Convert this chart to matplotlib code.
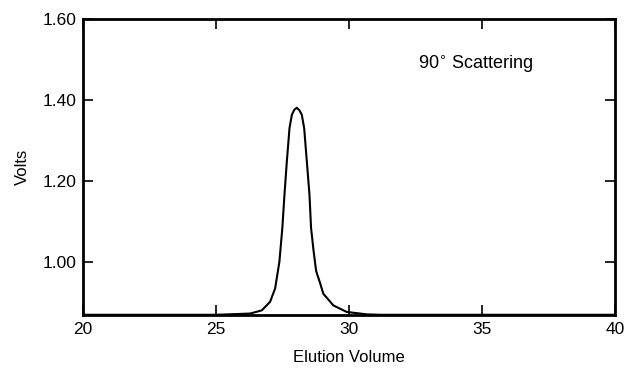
import matplotlib
matplotlib.use("Agg")
import matplotlib.pyplot as plt

plt.rcParams['font.family'] = ['Liberation Sans', 'DejaVu Sans']

# elution trace
volume = [20.0, 25.0, 26.28, 26.72, 27.03, 27.22, 27.38, 27.49, 27.57, 27.66, 27.76,
          27.85, 27.94, 28.03, 28.13, 28.22, 28.31, 28.41, 28.51, 28.57, 28.66, 28.76,
          28.91, 29.03, 29.41, 29.91, 30.67, 31.17, 34.0, 40.0]
volts = [0.870, 0.870, 0.873, 0.881, 0.902, 0.935, 1.001, 1.084, 1.166, 1.249, 1.331,
         1.364, 1.376, 1.381, 1.375, 1.364, 1.331, 1.249, 1.166, 1.084, 1.030, 0.978,
         0.948, 0.922, 0.893, 0.877, 0.871, 0.870, 0.870, 0.870]

xticks = [20, 25, 30, 35, 40]
yticks = [1.00, 1.20, 1.40, 1.60]
ytick_labels = ["1.00", "1.20", "1.40", "1.60"]

fig = plt.figure(figsize=(6.24, 3.73), dpi=100)
ax = fig.add_axes([0.133, 0.155, 0.853, 0.794])

ax.plot(volume, volts, color='black', lw=1.5, solid_joinstyle='round',
        solid_capstyle='round')

ax.set_xlim(20, 40)
ax.set_ylim(0.869, 1.60)
ax.set_xticks(xticks)
ax.set_yticks(yticks)
ax.set_yticklabels(ytick_labels)
ax.tick_params(direction='in', length=7, width=1.2, labelsize=12.5,
               top=True, right=True, pad=5)

for s in ax.spines.values():
    s.set_linewidth(2.0)

ax.set_xlabel("Elution Volume", fontsize=12, labelpad=9)
ax.set_ylabel("Volts", fontsize=12, labelpad=9)

ax.text(32.6, 1.488, "90$^{\\circ}$ Scattering", fontsize=13, va='center', ha='left')

fig.savefig("out.png", dpi=100)
